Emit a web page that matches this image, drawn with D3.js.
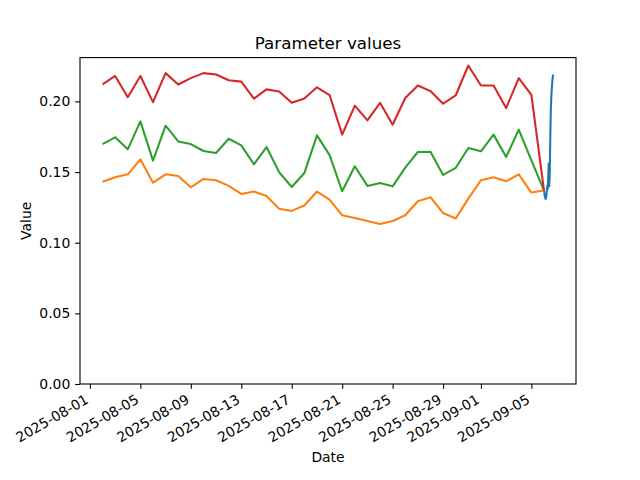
<!DOCTYPE html>
<html>
<head>
<meta charset="utf-8">
<script src="https://cdn.jsdelivr.net/npm/d3@7/dist/d3.min.js"></script>
<style>
  html, body { margin: 0; padding: 0; background: #fff; }
  svg { display: block; font-family: "DejaVu Sans", sans-serif; }
</style>
</head>
<body>
<svg id="chart" width="640" height="480"></svg>
<script>
// ---- data ----
const dailyDates = [
  "2025-08-02","2025-08-03","2025-08-04","2025-08-05","2025-08-06","2025-08-07",
  "2025-08-08","2025-08-09","2025-08-10","2025-08-11","2025-08-12","2025-08-13",
  "2025-08-14","2025-08-15","2025-08-16","2025-08-17","2025-08-18","2025-08-19",
  "2025-08-20","2025-08-21","2025-08-22","2025-08-23","2025-08-24","2025-08-25",
  "2025-08-26","2025-08-27","2025-08-28","2025-08-29","2025-08-30","2025-08-31",
  "2025-09-01","2025-09-02","2025-09-03","2025-09-04","2025-09-05","2025-09-06"
];
const orangeValues = [
  0.1432,0.1463,0.1484,0.1590,0.1425,0.1484,0.1472,0.1392,0.1451,0.1442,
  0.1402,0.1345,0.1362,0.1331,0.1241,0.1225,0.1263,0.1362,0.1305,
  0.1194,0.1175,0.1154,0.1133,0.1154,0.1194,0.1293,0.1322,0.1210,0.1171,
  0.1312,0.1442,0.1463,0.1435,0.1484,0.1355,0.1370
];
const greenValues = [
  0.1698,0.1746,0.1661,0.1859,0.1581,0.1828,0.1717,0.1698,0.1649,0.1635,
  0.1736,0.1689,0.1555,0.1677,0.1500,0.1394,0.1493,0.1760,0.1620,
  0.1364,0.1541,0.1402,0.1423,0.1399,0.1531,0.1642,0.1644,0.1480,0.1529,
  0.1670,0.1647,0.1765,0.1607,0.1800,0.1583,0.1370
];
const redValues = [
  0.2120,0.2180,0.2030,0.2180,0.1995,0.2200,0.2120,0.2165,0.2200,0.2190,
  0.2150,0.2140,0.2020,0.2085,0.2070,0.1990,0.2020,0.2100,0.2045,
  0.1765,0.1970,0.1866,0.1990,0.1835,0.2024,0.2113,0.2073,0.1984,0.2042,
  0.2254,0.2113,0.2113,0.1953,0.2165,0.2047,0.1370
];
const hourlyTimes = [
  "2025-09-06T00:00","2025-09-06T01:00","2025-09-06T02:00","2025-09-06T03:00",
  "2025-09-06T04:00","2025-09-06T05:00","2025-09-06T06:00","2025-09-06T07:00",
  "2025-09-06T08:00","2025-09-06T09:00","2025-09-06T10:00","2025-09-06T11:00",
  "2025-09-06T12:00","2025-09-06T13:00","2025-09-06T14:00","2025-09-06T15:00",
  "2025-09-06T16:00","2025-09-06T17:00","2025-09-06T18:00"
];
const blueValues = [
  0.1370,0.1340,0.1320,0.1310,0.1320,0.1350,0.1400,0.1380,0.1450,0.1560,
  0.1400,0.1500,0.1750,0.1950,0.2040,0.2100,0.2150,0.2180,0.2190
];
const xTickLabels = ["2025-08-01","2025-08-05","2025-08-09","2025-08-13","2025-08-17",
  "2025-08-21","2025-08-25","2025-08-29","2025-09-01","2025-09-05"];
const yTickValues = [0.00, 0.05, 0.10, 0.15, 0.20];
const titleText = "Parameter values";
const xLabelText = "Date";
const yLabelText = "Value";

// ---- build ----
const parseDay = d3.timeParse("%Y-%m-%d");
const parseHour = d3.timeParse("%Y-%m-%dT%H:%M");
const daily = dailyDates.map(parseDay);
const hourly = hourlyTimes.map(parseHour);

const series = [
  { color: "#1f77b4", pts: hourly.map((t, i) => [t, blueValues[i]]) },
  { color: "#ff7f0e", pts: daily.map((t, i) => [t, orangeValues[i]]) },
  { color: "#2ca02c", pts: daily.map((t, i) => [t, greenValues[i]]) },
  { color: "#d62728", pts: daily.map((t, i) => [t, redValues[i]]) }
];

const W = 640, H = 480;
const m = { left: 80, right: 576, top: 57.6, bottom: 384 };
const PT = 100 / 72;

const allPts = series.flatMap(s => s.pts);
const tMin = d3.min(allPts, p => +p[0]), tMax = d3.max(allPts, p => +p[0]);
const tPad = (tMax - tMin) * 0.05;
const vMin = d3.min(allPts, p => p[1]), vMax = d3.max(allPts, p => p[1]);
const vTop = vMax + (vMax - vMin) * 0.05;

const x = d3.scaleTime().domain([new Date(tMin - tPad), new Date(tMax + tPad)]).range([m.left, m.right]);
const y = d3.scaleLinear().domain([0, vTop]).range([m.bottom, m.top]);

const svg = d3.select("#chart");
svg.append("rect").attr("width", W).attr("height", H).attr("fill", "#fff");

// lines
const line = d3.line().x(p => x(p[0])).y(p => y(p[1]));
svg.append("g").selectAll("path").data(series).join("path")
  .attr("d", s => line(s.pts))
  .attr("fill", "none")
  .attr("stroke", s => s.color)
  .attr("stroke-width", 1.5 * PT)
  .attr("stroke-linejoin", "round")
  .attr("stroke-linecap", "butt");

// axes
const tickLen = 3.5 * PT, tickPad = 3.5 * PT;
const xAxis = d3.axisBottom(x)
  .tickValues(xTickLabels.map(parseDay))
  .tickFormat(d3.timeFormat("%Y-%m-%d"))
  .tickSize(tickLen).tickPadding(tickPad);
const gx = svg.append("g").attr("transform", `translate(0,${m.bottom})`).call(xAxis);
gx.select(".domain").remove();
gx.selectAll(".tick line").attr("stroke", "#000").attr("stroke-width", 0.8 * PT);
gx.selectAll(".tick text")
  .attr("fill", "#000")
  .attr("font-size", "13.9px")
  .attr("font-family", "DejaVu Sans, sans-serif")
  .attr("text-anchor", "end")
  .attr("y", 0).attr("dy", "0.72em")
  .attr("transform", `translate(-6,${tickLen + tickPad}) rotate(-30)`);

const yAxis = d3.axisLeft(y)
  .tickValues(yTickValues)
  .tickFormat(d3.format(".2f"))
  .tickSize(tickLen).tickPadding(tickPad);
const gy = svg.append("g").attr("transform", `translate(${m.left},0)`).call(yAxis);
gy.select(".domain").remove();
gy.selectAll(".tick line").attr("stroke", "#000").attr("stroke-width", 0.8 * PT);
gy.selectAll(".tick text")
  .attr("fill", "#000")
  .attr("font-size", "13.9px")
  .attr("font-family", "DejaVu Sans, sans-serif");

// frame
svg.append("rect")
  .attr("x", m.left).attr("y", m.top)
  .attr("width", m.right - m.left).attr("height", m.bottom - m.top)
  .attr("fill", "none").attr("stroke", "#000").attr("stroke-width", 0.8 * PT);

// labels
svg.append("text").attr("x", (m.left + m.right) / 2).attr("y", 49)
  .attr("text-anchor", "middle").attr("font-size", "16.7px").attr("fill", "#000")
  .text(titleText);
svg.append("text").attr("x", (m.left + m.right) / 2).attr("y", 462)
  .attr("text-anchor", "middle").attr("font-size", "13.9px").attr("fill", "#000")
  .text(xLabelText);
svg.append("text")
  .attr("transform", `translate(31,${(m.top + m.bottom) / 2}) rotate(-90)`)
  .attr("text-anchor", "middle").attr("font-size", "13.9px").attr("fill", "#000")
  .text(yLabelText);
</script>
</body>
</html>
